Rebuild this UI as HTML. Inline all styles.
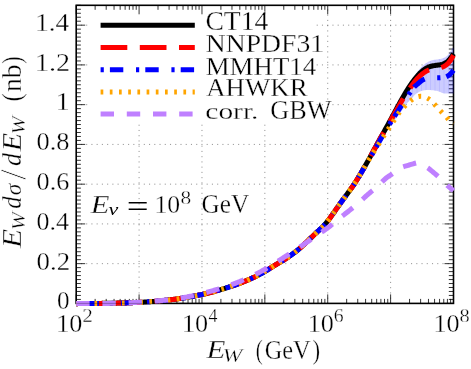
<!DOCTYPE html>
<html><head><meta charset="utf-8"><title>plot</title><style>html,body{margin:0;padding:0;background:#fff;overflow:hidden}body{width:471px;height:369px;position:relative;font-family:"Liberation Serif",serif}</style></head><body>
<svg width="471" height="369" viewBox="0 0 471 369" style="position:absolute;left:0;top:0">
<rect width="471" height="369" fill="#fff"/>
<defs><clipPath id="c"><rect x="76.20" y="5.30" width="378.50" height="300.70"/></clipPath></defs>
<path d="M76.2,263.65 H453.5" stroke="#000" stroke-opacity="0.42" stroke-width="1" stroke-dasharray="1.1 4.14" fill="none" stroke-dashoffset="0.55"/>
<path d="M76.2,223.91 H453.5" stroke="#000" stroke-opacity="0.42" stroke-width="1" stroke-dasharray="1.1 4.14" fill="none" stroke-dashoffset="0.55"/>
<path d="M76.2,184.16 H453.5" stroke="#000" stroke-opacity="0.42" stroke-width="1" stroke-dasharray="1.1 4.14" fill="none" stroke-dashoffset="0.55"/>
<path d="M76.2,144.41 H453.5" stroke="#000" stroke-opacity="0.42" stroke-width="1" stroke-dasharray="1.1 4.14" fill="none" stroke-dashoffset="0.55"/>
<path d="M76.2,104.67 H453.5" stroke="#000" stroke-opacity="0.42" stroke-width="1" stroke-dasharray="1.1 4.14" fill="none" stroke-dashoffset="0.55"/>
<path d="M76.2,64.92 H453.5" stroke="#000" stroke-opacity="0.42" stroke-width="1" stroke-dasharray="1.1 4.14" fill="none" stroke-dashoffset="0.55"/>
<path d="M76.2,25.17 H453.5" stroke="#000" stroke-opacity="0.42" stroke-width="1" stroke-dasharray="1.1 4.14" fill="none" stroke-dashoffset="0.55"/>
<path d="M139.08,303.4 V5.3" stroke="#000" stroke-opacity="0.42" stroke-width="1" stroke-dasharray="1.1 4.14" fill="none" stroke-dashoffset="0.55"/>
<path d="M201.97,303.4 V5.3" stroke="#000" stroke-opacity="0.42" stroke-width="1" stroke-dasharray="1.1 4.14" fill="none" stroke-dashoffset="0.55"/>
<path d="M264.85,303.4 V5.3" stroke="#000" stroke-opacity="0.42" stroke-width="1" stroke-dasharray="1.1 4.14" fill="none" stroke-dashoffset="0.55"/>
<path d="M327.73,303.4 V5.3" stroke="#000" stroke-opacity="0.42" stroke-width="1" stroke-dasharray="1.1 4.14" fill="none" stroke-dashoffset="0.55"/>
<path d="M390.62,303.4 V5.3" stroke="#000" stroke-opacity="0.42" stroke-width="1" stroke-dasharray="1.1 4.14" fill="none" stroke-dashoffset="0.55"/>
<rect x="88.5" y="6.5" width="226.5" height="117" fill="#fff"/>
<path d="M76.2,303.40h9M453.5,303.40h-9M76.2,299.43h4.7M453.5,299.43h-4.7M76.2,295.45h4.7M453.5,295.45h-4.7M76.2,291.48h4.7M453.5,291.48h-4.7M76.2,287.50h4.7M453.5,287.50h-4.7M76.2,283.53h4.7M453.5,283.53h-4.7M76.2,279.55h4.7M453.5,279.55h-4.7M76.2,275.58h4.7M453.5,275.58h-4.7M76.2,271.60h4.7M453.5,271.60h-4.7M76.2,267.63h4.7M453.5,267.63h-4.7M76.2,263.65h9M453.5,263.65h-9M76.2,259.68h4.7M453.5,259.68h-4.7M76.2,255.70h4.7M453.5,255.70h-4.7M76.2,251.73h4.7M453.5,251.73h-4.7M76.2,247.75h4.7M453.5,247.75h-4.7M76.2,243.78h4.7M453.5,243.78h-4.7M76.2,239.81h4.7M453.5,239.81h-4.7M76.2,235.83h4.7M453.5,235.83h-4.7M76.2,231.86h4.7M453.5,231.86h-4.7M76.2,227.88h4.7M453.5,227.88h-4.7M76.2,223.91h9M453.5,223.91h-9M76.2,219.93h4.7M453.5,219.93h-4.7M76.2,215.96h4.7M453.5,215.96h-4.7M76.2,211.98h4.7M453.5,211.98h-4.7M76.2,208.01h4.7M453.5,208.01h-4.7M76.2,204.03h4.7M453.5,204.03h-4.7M76.2,200.06h4.7M453.5,200.06h-4.7M76.2,196.08h4.7M453.5,196.08h-4.7M76.2,192.11h4.7M453.5,192.11h-4.7M76.2,188.13h4.7M453.5,188.13h-4.7M76.2,184.16h9M453.5,184.16h-9M76.2,180.19h4.7M453.5,180.19h-4.7M76.2,176.21h4.7M453.5,176.21h-4.7M76.2,172.24h4.7M453.5,172.24h-4.7M76.2,168.26h4.7M453.5,168.26h-4.7M76.2,164.29h4.7M453.5,164.29h-4.7M76.2,160.31h4.7M453.5,160.31h-4.7M76.2,156.34h4.7M453.5,156.34h-4.7M76.2,152.36h4.7M453.5,152.36h-4.7M76.2,148.39h4.7M453.5,148.39h-4.7M76.2,144.41h9M453.5,144.41h-9M76.2,140.44h4.7M453.5,140.44h-4.7M76.2,136.46h4.7M453.5,136.46h-4.7M76.2,132.49h4.7M453.5,132.49h-4.7M76.2,128.51h4.7M453.5,128.51h-4.7M76.2,124.54h4.7M453.5,124.54h-4.7M76.2,120.57h4.7M453.5,120.57h-4.7M76.2,116.59h4.7M453.5,116.59h-4.7M76.2,112.62h4.7M453.5,112.62h-4.7M76.2,108.64h4.7M453.5,108.64h-4.7M76.2,104.67h9M453.5,104.67h-9M76.2,100.69h4.7M453.5,100.69h-4.7M76.2,96.72h4.7M453.5,96.72h-4.7M76.2,92.74h4.7M453.5,92.74h-4.7M76.2,88.77h4.7M453.5,88.77h-4.7M76.2,84.79h4.7M453.5,84.79h-4.7M76.2,80.82h4.7M453.5,80.82h-4.7M76.2,76.84h4.7M453.5,76.84h-4.7M76.2,72.87h4.7M453.5,72.87h-4.7M76.2,68.89h4.7M453.5,68.89h-4.7M76.2,64.92h9M453.5,64.92h-9M76.2,60.95h4.7M453.5,60.95h-4.7M76.2,56.97h4.7M453.5,56.97h-4.7M76.2,53.00h4.7M453.5,53.00h-4.7M76.2,49.02h4.7M453.5,49.02h-4.7M76.2,45.05h4.7M453.5,45.05h-4.7M76.2,41.07h4.7M453.5,41.07h-4.7M76.2,37.10h4.7M453.5,37.10h-4.7M76.2,33.12h4.7M453.5,33.12h-4.7M76.2,29.15h4.7M453.5,29.15h-4.7M76.2,25.17h9M453.5,25.17h-9M76.2,21.20h4.7M453.5,21.20h-4.7M76.2,17.22h4.7M453.5,17.22h-4.7M76.2,13.25h4.7M453.5,13.25h-4.7M76.2,9.27h4.7M453.5,9.27h-4.7M76.2,5.30h4.7M453.5,5.30h-4.7M76.20,303.4v-9M76.20,5.3v9M95.13,303.4v-4.5M95.13,5.3v4.5M106.20,303.4v-4.5M106.20,5.3v4.5M114.06,303.4v-4.5M114.06,5.3v4.5M120.15,303.4v-4.5M120.15,5.3v4.5M125.13,303.4v-4.5M125.13,5.3v4.5M129.34,303.4v-4.5M129.34,5.3v4.5M132.99,303.4v-4.5M132.99,5.3v4.5M136.21,303.4v-4.5M136.21,5.3v4.5M139.08,303.4v-9M139.08,5.3v9M158.01,303.4v-4.5M158.01,5.3v4.5M169.09,303.4v-4.5M169.09,5.3v4.5M176.94,303.4v-4.5M176.94,5.3v4.5M183.04,303.4v-4.5M183.04,5.3v4.5M188.02,303.4v-4.5M188.02,5.3v4.5M192.23,303.4v-4.5M192.23,5.3v4.5M195.87,303.4v-4.5M195.87,5.3v4.5M199.09,303.4v-4.5M199.09,5.3v4.5M201.97,303.4v-9M201.97,5.3v9M220.90,303.4v-4.5M220.90,5.3v4.5M231.97,303.4v-4.5M231.97,5.3v4.5M239.83,303.4v-4.5M239.83,5.3v4.5M245.92,303.4v-4.5M245.92,5.3v4.5M250.90,303.4v-4.5M250.90,5.3v4.5M255.11,303.4v-4.5M255.11,5.3v4.5M258.76,303.4v-4.5M258.76,5.3v4.5M261.97,303.4v-4.5M261.97,5.3v4.5M264.85,303.4v-9M264.85,5.3v9M283.78,303.4v-4.5M283.78,5.3v4.5M294.85,303.4v-4.5M294.85,5.3v4.5M302.71,303.4v-4.5M302.71,5.3v4.5M308.80,303.4v-4.5M308.80,5.3v4.5M313.78,303.4v-4.5M313.78,5.3v4.5M317.99,303.4v-4.5M317.99,5.3v4.5M321.64,303.4v-4.5M321.64,5.3v4.5M324.86,303.4v-4.5M324.86,5.3v4.5M327.73,303.4v-9M327.73,5.3v9M346.66,303.4v-4.5M346.66,5.3v4.5M357.74,303.4v-4.5M357.74,5.3v4.5M365.59,303.4v-4.5M365.59,5.3v4.5M371.69,303.4v-4.5M371.69,5.3v4.5M376.67,303.4v-4.5M376.67,5.3v4.5M380.88,303.4v-4.5M380.88,5.3v4.5M384.52,303.4v-4.5M384.52,5.3v4.5M387.74,303.4v-4.5M387.74,5.3v4.5M390.62,303.4v-9M390.62,5.3v9M409.55,303.4v-4.5M409.55,5.3v4.5M420.62,303.4v-4.5M420.62,5.3v4.5M428.48,303.4v-4.5M428.48,5.3v4.5M434.57,303.4v-4.5M434.57,5.3v4.5M439.55,303.4v-4.5M439.55,5.3v4.5M443.76,303.4v-4.5M443.76,5.3v4.5M447.41,303.4v-4.5M447.41,5.3v4.5M450.62,303.4v-4.5M450.62,5.3v4.5M453.50,303.4v-9M453.50,5.3v9" stroke="#000" stroke-width="0.8" fill="none"/>
<rect x="76.2" y="5.3" width="377.3" height="298.09999999999997" fill="none" stroke="#000" stroke-width="1.6"/>
<g><path d="M370.2,155.60 L371.2,153.63 L372.2,151.67 L373.2,149.72 L374.2,147.77 L375.2,145.84 L376.2,143.93 L377.2,142.02 L378.2,140.12 L379.2,138.23 L380.2,136.35 L381.2,134.48 L382.2,132.63 L383.2,130.78 L384.2,128.94 L385.2,127.11 L386.2,125.29 L387.2,123.47 L388.2,121.67 L389.2,119.88 L390.2,118.09 L391.2,116.31 L392.2,114.54 L393.2,112.78 L394.2,111.03 L395.2,109.28 L396.2,107.54 L397.2,105.81 L398.2,104.09 L399.2,102.37 L400.2,100.66 L401.2,98.97 L402.2,97.30 L403.2,95.66 L404.2,94.03 L405.2,92.41 L406.2,90.80 L407.2,89.20 L408.2,87.61 L409.2,86.01 L410.2,84.41 L411.2,82.80 L412.2,81.17 L413.2,79.47 L414.2,77.70 L415.2,75.91 L416.2,74.14 L417.2,72.45 L418.2,70.87 L419.2,69.47 L420.2,68.28 L421.2,67.21 L422.2,66.21 L423.2,65.28 L424.2,64.42 L425.2,63.66 L426.2,62.98 L427.2,62.39 L428.2,61.85 L429.2,61.35 L430.2,60.90 L431.2,60.51 L432.2,60.19 L433.2,59.96 L434.2,59.79 L435.2,59.67 L436.2,59.55 L437.2,59.42 L438.2,59.26 L439.2,59.09 L440.2,58.89 L441.2,58.67 L442.2,58.41 L443.2,58.10 L444.2,57.71 L445.2,57.18 L446.2,56.52 L447.2,55.72 L448.2,54.79 L449.2,53.41 L450.2,51.74 L451.2,50.22 L452.2,48.91 L453.2,47.63 L453.5,47.24 L453.5,93.40 L453.2,93.41 L452.2,93.44 L451.2,93.47 L450.2,93.51 L449.2,93.53 L448.2,93.56 L447.2,93.58 L446.2,93.59 L445.2,93.60 L444.2,93.53 L443.2,93.29 L442.2,92.92 L441.2,92.48 L440.2,92.04 L439.2,91.64 L438.2,91.35 L437.2,91.10 L436.2,90.85 L435.2,90.63 L434.2,90.45 L433.2,90.32 L432.2,90.23 L431.2,90.15 L430.2,90.09 L429.2,90.04 L428.2,90.01 L427.2,90.00 L426.2,90.06 L425.2,90.19 L424.2,90.36 L423.2,90.56 L422.2,90.78 L421.2,91.05 L420.2,91.41 L419.2,91.87 L418.2,92.39 L417.2,92.99 L416.2,93.66 L415.2,94.57 L414.2,95.60 L413.2,96.65 L412.2,97.78 L411.2,98.91 L410.2,99.98 L409.2,101.02 L408.2,102.07 L407.2,103.15 L406.2,104.31 L405.2,105.58 L404.2,107.00 L403.2,108.49 L402.2,109.99 L401.2,111.42 L400.2,112.83 L399.2,114.24 L398.2,115.63 L397.2,117.01 L396.2,118.38 L395.2,119.73 L394.2,121.05 L393.2,122.33 L392.2,123.60 L391.2,124.88 L390.2,126.22 L389.2,127.63 L388.2,129.10 L387.2,130.61 L386.2,132.14 L385.2,133.69 L384.2,135.25 L383.2,136.84 L382.2,138.45 L381.2,140.07 L380.2,141.68 L379.2,143.28 L378.2,144.88 L377.2,146.48 L376.2,148.08 L375.2,149.68 L374.2,151.28 L373.2,152.88 L372.2,154.48 L371.2,156.08 L370.2,157.68Z" fill="#0000ff" fill-opacity="0.2"/>
<path d="M385.5,127.1 V133.7" stroke="#0000ff" stroke-opacity="0.07" stroke-width="1"/>
<path d="M390.0,118.1 V126.2" stroke="#0000ff" stroke-opacity="0.07" stroke-width="1"/>
<path d="M394.5,111.0 V121.1" stroke="#0000ff" stroke-opacity="0.07" stroke-width="1"/>
<path d="M399.0,102.4 V114.2" stroke="#0000ff" stroke-opacity="0.07" stroke-width="1"/>
<path d="M403.5,95.7 V108.5" stroke="#0000ff" stroke-opacity="0.07" stroke-width="1"/>
<path d="M408.0,87.6 V102.1" stroke="#0000ff" stroke-opacity="0.07" stroke-width="1"/>
<path d="M412.5,81.2 V97.8" stroke="#0000ff" stroke-opacity="0.07" stroke-width="1"/>
<path d="M417.0,72.4 V93.0" stroke="#0000ff" stroke-opacity="0.07" stroke-width="1"/>
<path d="M421.5,67.2 V91.0" stroke="#0000ff" stroke-opacity="0.07" stroke-width="1"/>
<path d="M426.0,63.0 V90.1" stroke="#0000ff" stroke-opacity="0.07" stroke-width="1"/>
<path d="M430.5,60.9 V90.1" stroke="#0000ff" stroke-opacity="0.07" stroke-width="1"/>
<path d="M435.0,59.7 V90.6" stroke="#0000ff" stroke-opacity="0.07" stroke-width="1"/>
<path d="M439.5,59.1 V91.6" stroke="#0000ff" stroke-opacity="0.07" stroke-width="1"/>
<path d="M444.0,57.7 V93.5" stroke="#0000ff" stroke-opacity="0.07" stroke-width="1"/>
<path d="M448.5,54.8 V93.6" stroke="#0000ff" stroke-opacity="0.07" stroke-width="1"/>
<path d="M453.0,47.6 V93.4" stroke="#0000ff" stroke-opacity="0.07" stroke-width="1"/>
<path d="M76.2,303.65 L77.2,303.64 L78.2,303.62 L79.2,303.61 L80.2,303.60 L81.2,303.59 L82.2,303.58 L83.2,303.57 L84.2,303.55 L85.2,303.54 L86.2,303.53 L87.2,303.52 L88.2,303.51 L89.2,303.50 L90.2,303.49 L91.2,303.48 L92.2,303.47 L93.2,303.46 L94.2,303.45 L95.2,303.44 L96.2,303.43 L97.2,303.42 L98.2,303.41 L99.2,303.40 L100.2,303.39 L101.2,303.38 L102.2,303.36 L103.2,303.35 L104.2,303.34 L105.2,303.33 L106.2,303.31 L107.2,303.30 L108.2,303.28 L109.2,303.27 L110.2,303.25 L111.2,303.23 L112.2,303.22 L113.2,303.20 L114.2,303.18 L115.2,303.16 L116.2,303.14 L117.2,303.12 L118.2,303.09 L119.2,303.07 L120.2,303.05 L121.2,303.02 L122.2,302.99 L123.2,302.97 L124.2,302.94 L125.2,302.91 L126.2,302.88 L127.2,302.84 L128.2,302.81 L129.2,302.77 L130.2,302.74 L131.2,302.70 L132.2,302.66 L133.2,302.62 L134.2,302.58 L135.2,302.54 L136.2,302.49 L137.2,302.44 L138.2,302.40 L139.2,302.35 L140.2,302.29 L141.2,302.24 L142.2,302.19 L143.2,302.13 L144.2,302.07 L145.2,302.01 L146.2,301.95 L147.2,301.88 L148.2,301.82 L149.2,301.75 L150.2,301.68 L151.2,301.61 L152.2,301.53 L153.2,301.46 L154.2,301.38 L155.2,301.30 L156.2,301.21 L157.2,301.13 L158.2,301.04 L159.2,300.95 L160.2,300.86 L161.2,300.76 L162.2,300.67 L163.2,300.57 L164.2,300.47 L165.2,300.36 L166.2,300.25 L167.2,300.14 L168.2,300.03 L169.2,299.92 L170.2,299.80 L171.2,299.68 L172.2,299.55 L173.2,299.43 L174.2,299.30 L175.2,299.17 L176.2,299.03 L177.2,298.89 L178.2,298.75 L179.2,298.61 L180.2,298.46 L181.2,298.31 L182.2,298.16 L183.2,298.00 L184.2,297.84 L185.2,297.68 L186.2,297.51 L187.2,297.34 L188.2,297.17 L189.2,296.99 L190.2,296.81 L191.2,296.63 L192.2,296.45 L193.2,296.26 L194.2,296.06 L195.2,295.87 L196.2,295.67 L197.2,295.46 L198.2,295.26 L199.2,295.05 L200.2,294.83 L201.2,294.62 L202.2,294.40 L203.2,294.17 L204.2,293.94 L205.2,293.71 L206.2,293.48 L207.2,293.24 L208.2,292.99 L209.2,292.75 L210.2,292.50 L211.2,292.24 L212.2,291.98 L213.2,291.72 L214.2,291.46 L215.2,291.19 L216.2,290.91 L217.2,290.63 L218.2,290.35 L219.2,290.07 L220.2,289.78 L221.2,289.48 L222.2,289.19 L223.2,288.88 L224.2,288.58 L225.2,288.27 L226.2,287.95 L227.2,287.63 L228.2,287.31 L229.2,286.99 L230.2,286.65 L231.2,286.32 L232.2,285.98 L233.2,285.63 L234.2,285.29 L235.2,284.93 L236.2,284.58 L237.2,284.21 L238.2,283.85 L239.2,283.48 L240.2,283.10 L241.2,282.72 L242.2,282.33 L243.2,281.94 L244.2,281.54 L245.2,281.14 L246.2,280.72 L247.2,280.31 L248.2,279.88 L249.2,279.45 L250.2,279.01 L251.2,278.56 L252.2,278.10 L253.2,277.63 L254.2,277.16 L255.2,276.68 L256.2,276.18 L257.2,275.68 L258.2,275.17 L259.2,274.65 L260.2,274.12 L261.2,273.57 L262.2,273.02 L263.2,272.46 L264.2,271.88 L265.2,271.29 L266.2,270.69 L267.2,270.08 L268.2,269.47 L269.2,268.85 L270.2,268.22 L271.2,267.60 L272.2,266.97 L273.2,266.35 L274.2,265.72 L275.2,265.11 L276.2,264.50 L277.2,263.90 L278.2,263.31 L279.2,262.72 L280.2,262.14 L281.2,261.55 L282.2,260.96 L283.2,260.36 L284.2,259.75 L285.2,259.13 L286.2,258.49 L287.2,257.84 L288.2,257.17 L289.2,256.49 L290.2,255.79 L291.2,255.08 L292.2,254.35 L293.2,253.60 L294.2,252.84 L295.2,252.06 L296.2,251.27 L297.2,250.46 L298.2,249.64 L299.2,248.79 L300.2,247.93 L301.2,247.06 L302.2,246.17 L303.2,245.26 L304.2,244.33 L305.2,243.40 L306.2,242.45 L307.2,241.50 L308.2,240.54 L309.2,239.57 L310.2,238.61 L311.2,237.64 L312.2,236.67 L313.2,235.70 L314.2,234.74 L315.2,233.79 L316.2,232.85 L317.2,231.91 L318.2,230.99 L319.2,230.07 L320.2,229.14 L321.2,228.19 L322.2,227.21 L323.2,226.21 L324.2,225.15 L325.2,224.05 L326.2,222.88 L327.2,221.66 L328.2,220.38 L329.2,219.06 L330.2,217.71 L331.2,216.32 L332.2,214.91 L333.2,213.49 L334.2,212.05 L335.2,210.61 L336.2,209.17 L337.2,207.74 L338.2,206.31 L339.2,204.89 L340.2,203.48 L341.2,202.09 L342.2,200.71 L343.2,199.35 L344.2,198.00 L345.2,196.65 L346.2,195.30 L347.2,193.95 L348.2,192.59 L349.2,191.22 L350.2,189.84 L351.2,188.43 L352.2,187.01 L353.2,185.55 L354.2,184.06 L355.2,182.54 L356.2,180.99 L357.2,179.40 L358.2,177.79 L359.2,176.15 L360.2,174.49 L361.2,172.80 L362.2,171.09 L363.2,169.36 L364.2,167.61 L365.2,165.85 L366.2,164.07 L367.2,162.28 L368.2,160.47 L369.2,158.66 L370.2,156.84 L371.2,155.01 L372.2,153.18 L373.2,151.35 L374.2,149.51 L375.2,147.68 L376.2,145.85 L377.2,144.02 L378.2,142.20 L379.2,140.38 L380.2,138.57 L381.2,136.76 L382.2,134.95 L383.2,133.14 L384.2,131.34 L385.2,129.53 L386.2,127.72 L387.2,125.91 L388.2,124.09 L389.2,122.27 L390.2,120.45 L391.2,118.62 L392.2,116.78 L393.2,114.93 L394.2,113.08 L395.2,111.23 L396.2,109.38 L397.2,107.53 L398.2,105.69 L399.2,103.86 L400.2,102.05 L401.2,100.25 L402.2,98.48 L403.2,96.73 L404.2,95.00 L405.2,93.31 L406.2,91.65 L407.2,90.03 L408.2,88.44 L409.2,86.89 L410.2,85.37 L411.2,83.91 L412.2,82.48 L413.2,81.10 L414.2,79.77 L415.2,78.49 L416.2,77.26 L417.2,76.08 L418.2,74.96 L419.2,73.89 L420.2,72.89 L421.2,71.94 L422.2,71.06 L423.2,70.24 L424.2,69.49 L425.2,68.81 L426.2,68.20 L427.2,67.66 L428.2,67.19 L429.2,66.80 L430.2,66.47 L431.2,66.20 L432.2,65.97 L433.2,65.78 L434.2,65.62 L435.2,65.48 L436.2,65.35 L437.2,65.22 L438.2,65.09 L439.2,64.95 L440.2,64.78 L441.2,64.56 L442.2,64.30 L443.2,63.97 L444.2,63.56 L445.2,63.05 L446.2,62.44 L447.2,61.71 L448.2,60.85 L449.2,59.84 L450.2,58.67 L451.2,57.34 L452.2,55.83 L453.2,54.23 L453.5,53.75" fill="none" stroke="#000" stroke-width="5" stroke-linejoin="round"/>
<path d="M76.2,303.65 L77.2,303.64 L78.2,303.62 L79.2,303.61 L80.2,303.60 L81.2,303.59 L82.2,303.58 L83.2,303.57 L84.2,303.55 L85.2,303.54 L86.2,303.53 L87.2,303.52 L88.2,303.51 L89.2,303.50 L90.2,303.49 L91.2,303.48 L92.2,303.47 L93.2,303.46 L94.2,303.45 L95.2,303.44 L96.2,303.43 L97.2,303.42 L98.2,303.41 L99.2,303.40 L100.2,303.39 L101.2,303.38 L102.2,303.36 L103.2,303.35 L104.2,303.34 L105.2,303.33 L106.2,303.31 L107.2,303.30 L108.2,303.28 L109.2,303.27 L110.2,303.25 L111.2,303.23 L112.2,303.22 L113.2,303.20 L114.2,303.18 L115.2,303.16 L116.2,303.14 L117.2,303.12 L118.2,303.09 L119.2,303.07 L120.2,303.05 L121.2,303.02 L122.2,302.99 L123.2,302.97 L124.2,302.94 L125.2,302.91 L126.2,302.88 L127.2,302.84 L128.2,302.81 L129.2,302.77 L130.2,302.74 L131.2,302.70 L132.2,302.66 L133.2,302.62 L134.2,302.58 L135.2,302.54 L136.2,302.49 L137.2,302.44 L138.2,302.40 L139.2,302.35 L140.2,302.29 L141.2,302.24 L142.2,302.19 L143.2,302.13 L144.2,302.07 L145.2,302.01 L146.2,301.95 L147.2,301.88 L148.2,301.82 L149.2,301.75 L150.2,301.68 L151.2,301.61 L152.2,301.53 L153.2,301.46 L154.2,301.38 L155.2,301.30 L156.2,301.21 L157.2,301.13 L158.2,301.04 L159.2,300.95 L160.2,300.86 L161.2,300.76 L162.2,300.67 L163.2,300.57 L164.2,300.47 L165.2,300.36 L166.2,300.25 L167.2,300.14 L168.2,300.03 L169.2,299.92 L170.2,299.80 L171.2,299.68 L172.2,299.55 L173.2,299.43 L174.2,299.30 L175.2,299.17 L176.2,299.03 L177.2,298.89 L178.2,298.75 L179.2,298.61 L180.2,298.46 L181.2,298.31 L182.2,298.16 L183.2,298.00 L184.2,297.84 L185.2,297.68 L186.2,297.51 L187.2,297.34 L188.2,297.17 L189.2,296.99 L190.2,296.81 L191.2,296.63 L192.2,296.45 L193.2,296.26 L194.2,296.06 L195.2,295.87 L196.2,295.67 L197.2,295.46 L198.2,295.26 L199.2,295.05 L200.2,294.83 L201.2,294.62 L202.2,294.40 L203.2,294.17 L204.2,293.94 L205.2,293.71 L206.2,293.48 L207.2,293.24 L208.2,292.99 L209.2,292.75 L210.2,292.50 L211.2,292.24 L212.2,291.98 L213.2,291.72 L214.2,291.46 L215.2,291.19 L216.2,290.91 L217.2,290.63 L218.2,290.35 L219.2,290.07 L220.2,289.78 L221.2,289.48 L222.2,289.19 L223.2,288.88 L224.2,288.58 L225.2,288.27 L226.2,287.95 L227.2,287.63 L228.2,287.31 L229.2,286.99 L230.2,286.65 L231.2,286.32 L232.2,285.98 L233.2,285.63 L234.2,285.29 L235.2,284.93 L236.2,284.58 L237.2,284.21 L238.2,283.85 L239.2,283.48 L240.2,283.10 L241.2,282.72 L242.2,282.33 L243.2,281.94 L244.2,281.54 L245.2,281.14 L246.2,280.72 L247.2,280.31 L248.2,279.88 L249.2,279.45 L250.2,279.01 L251.2,278.56 L252.2,278.10 L253.2,277.63 L254.2,277.16 L255.2,276.68 L256.2,276.18 L257.2,275.68 L258.2,275.17 L259.2,274.65 L260.2,274.12 L261.2,273.57 L262.2,273.02 L263.2,272.46 L264.2,271.88 L265.2,271.29 L266.2,270.69 L267.2,270.08 L268.2,269.47 L269.2,268.85 L270.2,268.22 L271.2,267.60 L272.2,266.97 L273.2,266.35 L274.2,265.72 L275.2,265.11 L276.2,264.50 L277.2,263.90 L278.2,263.31 L279.2,262.72 L280.2,262.14 L281.2,261.55 L282.2,260.96 L283.2,260.36 L284.2,259.75 L285.2,259.13 L286.2,258.49 L287.2,257.84 L288.2,257.17 L289.2,256.49 L290.2,255.79 L291.2,255.08 L292.2,254.35 L293.2,253.60 L294.2,252.84 L295.2,252.06 L296.2,251.27 L297.2,250.46 L298.2,249.64 L299.2,248.79 L300.2,247.93 L301.2,247.06 L302.2,246.17 L303.2,245.26 L304.2,244.33 L305.2,243.40 L306.2,242.45 L307.2,241.50 L308.2,240.54 L309.2,239.57 L310.2,238.61 L311.2,237.64 L312.2,236.67 L313.2,235.70 L314.2,234.74 L315.2,233.79 L316.2,232.85 L317.2,231.91 L318.2,230.99 L319.2,230.07 L320.2,229.14 L321.2,228.19 L322.2,227.21 L323.2,226.21 L324.2,225.15 L325.2,224.05 L326.2,222.88 L327.2,221.66 L328.2,220.38 L329.2,219.06 L330.2,217.71 L331.2,216.32 L332.2,214.91 L333.2,213.49 L334.2,212.05 L335.2,210.61 L336.2,209.17 L337.2,207.74 L338.2,206.31 L339.2,204.89 L340.2,203.48 L341.2,202.09 L342.2,200.71 L343.2,199.35 L344.2,198.00 L345.2,196.65 L346.2,195.30 L347.2,193.95 L348.2,192.59 L349.2,191.22 L350.2,189.84 L351.2,188.43 L352.2,187.01 L353.2,185.55 L354.2,184.06 L355.2,182.54 L356.2,180.99 L357.2,179.40 L358.2,177.79 L359.2,176.15 L360.2,174.49 L361.2,172.80 L362.2,171.09 L363.2,169.36 L364.2,167.61 L365.2,165.85 L366.2,164.07 L367.2,162.28 L368.2,160.47 L369.2,158.66 L370.2,156.84 L371.2,155.01 L372.2,153.18 L373.2,151.35 L374.2,149.51 L375.2,147.68 L376.2,145.85 L377.2,144.02 L378.2,142.20 L379.2,140.38 L380.2,138.59 L381.2,136.86 L382.2,135.13 L383.2,133.41 L384.2,131.69 L385.2,129.96 L386.2,128.24 L387.2,126.51 L388.2,124.78 L389.2,123.04 L390.2,121.30 L391.2,119.55 L392.2,117.79 L393.2,116.02 L394.2,114.25 L395.2,112.47 L396.2,110.69 L397.2,108.92 L398.2,107.16 L399.2,105.40 L400.2,103.67 L401.2,101.95 L402.2,100.26 L403.2,98.58 L404.2,96.94 L405.2,95.33 L406.2,93.75 L407.2,92.20 L408.2,90.69 L409.2,89.22 L410.2,87.78 L411.2,86.35 L412.2,84.97 L413.2,83.63 L414.2,82.34 L415.2,81.10 L416.2,79.90 L417.2,78.77 L418.2,77.68 L419.2,76.66 L420.2,75.69 L421.2,74.79 L422.2,73.95 L423.2,73.17 L424.2,72.46 L425.2,71.81 L426.2,71.20 L427.2,70.66 L428.2,70.19 L429.2,69.80 L430.2,69.47 L431.2,69.20 L432.2,68.97 L433.2,68.78 L434.2,68.62 L435.2,68.48 L436.2,68.35 L437.2,68.22 L438.2,68.09 L439.2,67.95 L440.2,67.76 L441.2,67.48 L442.2,67.14 L443.2,66.74 L444.2,66.26 L445.2,65.68 L446.2,65.00 L447.2,64.18 L448.2,63.16 L449.2,62.00 L450.2,60.68 L451.2,59.19 L452.2,57.53 L453.2,55.78 L453.5,55.25" fill="none" stroke="#ff0000" stroke-width="5" stroke-dasharray="26.7 12.5"/>
<path d="M76.2,303.65 L77.2,303.64 L78.2,303.62 L79.2,303.61 L80.2,303.60 L81.2,303.59 L82.2,303.58 L83.2,303.57 L84.2,303.55 L85.2,303.54 L86.2,303.53 L87.2,303.52 L88.2,303.51 L89.2,303.50 L90.2,303.49 L91.2,303.48 L92.2,303.47 L93.2,303.46 L94.2,303.45 L95.2,303.44 L96.2,303.43 L97.2,303.42 L98.2,303.41 L99.2,303.40 L100.2,303.39 L101.2,303.38 L102.2,303.36 L103.2,303.35 L104.2,303.34 L105.2,303.33 L106.2,303.31 L107.2,303.30 L108.2,303.28 L109.2,303.27 L110.2,303.25 L111.2,303.23 L112.2,303.22 L113.2,303.20 L114.2,303.18 L115.2,303.16 L116.2,303.14 L117.2,303.12 L118.2,303.09 L119.2,303.07 L120.2,303.05 L121.2,303.02 L122.2,302.99 L123.2,302.97 L124.2,302.94 L125.2,302.91 L126.2,302.88 L127.2,302.84 L128.2,302.81 L129.2,302.77 L130.2,302.74 L131.2,302.70 L132.2,302.66 L133.2,302.62 L134.2,302.58 L135.2,302.54 L136.2,302.49 L137.2,302.44 L138.2,302.40 L139.2,302.35 L140.2,302.29 L141.2,302.24 L142.2,302.19 L143.2,302.13 L144.2,302.07 L145.2,302.01 L146.2,301.95 L147.2,301.88 L148.2,301.82 L149.2,301.75 L150.2,301.68 L151.2,301.61 L152.2,301.53 L153.2,301.46 L154.2,301.38 L155.2,301.30 L156.2,301.21 L157.2,301.13 L158.2,301.04 L159.2,300.95 L160.2,300.86 L161.2,300.76 L162.2,300.67 L163.2,300.57 L164.2,300.47 L165.2,300.36 L166.2,300.25 L167.2,300.14 L168.2,300.03 L169.2,299.92 L170.2,299.80 L171.2,299.68 L172.2,299.55 L173.2,299.43 L174.2,299.30 L175.2,299.17 L176.2,299.03 L177.2,298.89 L178.2,298.75 L179.2,298.61 L180.2,298.46 L181.2,298.31 L182.2,298.16 L183.2,298.00 L184.2,297.84 L185.2,297.68 L186.2,297.51 L187.2,297.34 L188.2,297.17 L189.2,296.99 L190.2,296.81 L191.2,296.63 L192.2,296.45 L193.2,296.26 L194.2,296.06 L195.2,295.87 L196.2,295.67 L197.2,295.46 L198.2,295.26 L199.2,295.05 L200.2,294.83 L201.2,294.62 L202.2,294.40 L203.2,294.17 L204.2,293.94 L205.2,293.71 L206.2,293.48 L207.2,293.24 L208.2,292.99 L209.2,292.75 L210.2,292.50 L211.2,292.24 L212.2,291.98 L213.2,291.72 L214.2,291.46 L215.2,291.19 L216.2,290.91 L217.2,290.63 L218.2,290.35 L219.2,290.07 L220.2,289.78 L221.2,289.48 L222.2,289.19 L223.2,288.88 L224.2,288.58 L225.2,288.27 L226.2,287.95 L227.2,287.63 L228.2,287.31 L229.2,286.99 L230.2,286.65 L231.2,286.32 L232.2,285.98 L233.2,285.63 L234.2,285.29 L235.2,284.93 L236.2,284.58 L237.2,284.21 L238.2,283.85 L239.2,283.48 L240.2,283.10 L241.2,282.72 L242.2,282.33 L243.2,281.94 L244.2,281.54 L245.2,281.14 L246.2,280.72 L247.2,280.31 L248.2,279.88 L249.2,279.45 L250.2,279.01 L251.2,278.56 L252.2,278.10 L253.2,277.63 L254.2,277.16 L255.2,276.68 L256.2,276.18 L257.2,275.68 L258.2,275.17 L259.2,274.65 L260.2,274.12 L261.2,273.57 L262.2,273.02 L263.2,272.46 L264.2,271.88 L265.2,271.29 L266.2,270.69 L267.2,270.08 L268.2,269.47 L269.2,268.85 L270.2,268.22 L271.2,267.60 L272.2,266.97 L273.2,266.35 L274.2,265.72 L275.2,265.11 L276.2,264.50 L277.2,263.90 L278.2,263.31 L279.2,262.72 L280.2,262.14 L281.2,261.55 L282.2,260.96 L283.2,260.36 L284.2,259.75 L285.2,259.13 L286.2,258.49 L287.2,257.84 L288.2,257.17 L289.2,256.49 L290.2,255.79 L291.2,255.08 L292.2,254.35 L293.2,253.60 L294.2,252.84 L295.2,252.06 L296.2,251.27 L297.2,250.46 L298.2,249.64 L299.2,248.79 L300.2,247.93 L301.2,247.06 L302.2,246.17 L303.2,245.26 L304.2,244.33 L305.2,243.40 L306.2,242.45 L307.2,241.50 L308.2,240.54 L309.2,239.57 L310.2,238.61 L311.2,237.64 L312.2,236.67 L313.2,235.70 L314.2,234.74 L315.2,233.79 L316.2,232.85 L317.2,231.91 L318.2,230.99 L319.2,230.07 L320.2,229.14 L321.2,228.19 L322.2,227.21 L323.2,226.21 L324.2,225.15 L325.2,224.05 L326.2,222.88 L327.2,221.66 L328.2,220.38 L329.2,219.06 L330.2,217.71 L331.2,216.32 L332.2,214.91 L333.2,213.49 L334.2,212.05 L335.2,210.61 L336.2,209.17 L337.2,207.74 L338.2,206.31 L339.2,204.89 L340.2,203.48 L341.2,202.09 L342.2,200.71 L343.2,199.35 L344.2,198.00 L345.2,196.65 L346.2,195.30 L347.2,193.95 L348.2,192.59 L349.2,191.22 L350.2,189.84 L351.2,188.43 L352.2,187.01 L353.2,185.55 L354.2,184.06 L355.2,182.54 L356.2,180.99 L357.2,179.40 L358.2,177.79 L359.2,176.15 L360.2,174.49 L361.2,172.80 L362.2,171.09 L363.2,169.39 L364.2,167.71 L365.2,166.04 L366.2,164.37 L367.2,162.71 L368.2,161.04 L369.2,159.36 L370.2,157.66 L371.2,155.94 L372.2,154.20 L373.2,152.43 L374.2,150.66 L375.2,148.89 L376.2,147.11 L377.2,145.34 L378.2,143.58 L379.2,141.83 L380.2,140.08 L381.2,138.34 L382.2,136.61 L383.2,134.88 L384.2,133.15 L385.2,131.44 L386.2,129.74 L387.2,128.08 L388.2,126.44 L389.2,124.81 L390.2,123.19 L391.2,121.59 L392.2,120.00 L393.2,118.42 L394.2,116.84 L395.2,115.25 L396.2,113.68 L397.2,112.11 L398.2,110.55 L399.2,109.02 L400.2,107.51 L401.2,105.99 L402.2,104.41 L403.2,102.81 L404.2,101.21 L405.2,99.62 L406.2,98.07 L407.2,96.55 L408.2,95.06 L409.2,93.61 L410.2,92.19 L411.2,90.81 L412.2,89.47 L413.2,88.19 L414.2,87.00 L415.2,86.00 L416.2,85.15 L417.2,84.35 L418.2,83.50 L419.2,82.62 L420.2,81.78 L421.2,80.99 L422.2,80.30 L423.2,79.71 L424.2,79.21 L425.2,78.80 L426.2,78.45 L427.2,78.19 L428.2,78.01 L429.2,77.89 L430.2,77.82 L431.2,77.80 L432.2,77.81 L433.2,77.83 L434.2,77.85 L435.2,77.84 L436.2,77.83 L437.2,77.82 L438.2,77.82 L439.2,77.81 L440.2,77.78 L441.2,77.72 L442.2,77.64 L443.2,77.53 L444.2,77.37 L445.2,77.14 L446.2,76.79 L447.2,76.33 L448.2,75.74 L449.2,75.01 L450.2,74.13 L451.2,73.10 L452.2,71.91 L453.2,70.63 L453.5,70.25" fill="none" stroke="#0000ff" stroke-width="5" stroke-dasharray="3.2 6.1 13.4 12.7"/>
<path d="M76.2,303.65 L77.2,303.64 L78.2,303.62 L79.2,303.61 L80.2,303.60 L81.2,303.59 L82.2,303.58 L83.2,303.57 L84.2,303.55 L85.2,303.54 L86.2,303.53 L87.2,303.52 L88.2,303.51 L89.2,303.50 L90.2,303.49 L91.2,303.48 L92.2,303.47 L93.2,303.46 L94.2,303.45 L95.2,303.44 L96.2,303.43 L97.2,303.42 L98.2,303.41 L99.2,303.40 L100.2,303.39 L101.2,303.38 L102.2,303.36 L103.2,303.35 L104.2,303.34 L105.2,303.33 L106.2,303.31 L107.2,303.30 L108.2,303.28 L109.2,303.27 L110.2,303.25 L111.2,303.23 L112.2,303.22 L113.2,303.20 L114.2,303.18 L115.2,303.16 L116.2,303.14 L117.2,303.12 L118.2,303.09 L119.2,303.07 L120.2,303.05 L121.2,303.02 L122.2,302.99 L123.2,302.97 L124.2,302.94 L125.2,302.91 L126.2,302.88 L127.2,302.84 L128.2,302.81 L129.2,302.77 L130.2,302.74 L131.2,302.70 L132.2,302.66 L133.2,302.62 L134.2,302.58 L135.2,302.54 L136.2,302.49 L137.2,302.44 L138.2,302.40 L139.2,302.35 L140.2,302.29 L141.2,302.24 L142.2,302.19 L143.2,302.13 L144.2,302.07 L145.2,302.01 L146.2,301.95 L147.2,301.88 L148.2,301.82 L149.2,301.75 L150.2,301.68 L151.2,301.61 L152.2,301.53 L153.2,301.46 L154.2,301.38 L155.2,301.30 L156.2,301.21 L157.2,301.13 L158.2,301.04 L159.2,300.95 L160.2,300.86 L161.2,300.76 L162.2,300.67 L163.2,300.57 L164.2,300.47 L165.2,300.36 L166.2,300.25 L167.2,300.14 L168.2,300.03 L169.2,299.92 L170.2,299.80 L171.2,299.68 L172.2,299.55 L173.2,299.43 L174.2,299.30 L175.2,299.17 L176.2,299.03 L177.2,298.89 L178.2,298.75 L179.2,298.61 L180.2,298.46 L181.2,298.31 L182.2,298.16 L183.2,298.00 L184.2,297.84 L185.2,297.68 L186.2,297.51 L187.2,297.34 L188.2,297.17 L189.2,296.99 L190.2,296.81 L191.2,296.63 L192.2,296.45 L193.2,296.26 L194.2,296.06 L195.2,295.87 L196.2,295.67 L197.2,295.46 L198.2,295.26 L199.2,295.05 L200.2,294.83 L201.2,294.62 L202.2,294.40 L203.2,294.17 L204.2,293.94 L205.2,293.71 L206.2,293.48 L207.2,293.24 L208.2,292.99 L209.2,292.75 L210.2,292.50 L211.2,292.24 L212.2,291.98 L213.2,291.72 L214.2,291.46 L215.2,291.19 L216.2,290.91 L217.2,290.63 L218.2,290.35 L219.2,290.07 L220.2,289.78 L221.2,289.48 L222.2,289.19 L223.2,288.88 L224.2,288.58 L225.2,288.27 L226.2,287.95 L227.2,287.63 L228.2,287.31 L229.2,286.99 L230.2,286.65 L231.2,286.32 L232.2,285.98 L233.2,285.63 L234.2,285.29 L235.2,284.93 L236.2,284.58 L237.2,284.21 L238.2,283.85 L239.2,283.48 L240.2,283.10 L241.2,282.72 L242.2,282.33 L243.2,281.94 L244.2,281.54 L245.2,281.14 L246.2,280.72 L247.2,280.31 L248.2,279.88 L249.2,279.45 L250.2,279.01 L251.2,278.56 L252.2,278.10 L253.2,277.63 L254.2,277.16 L255.2,276.68 L256.2,276.18 L257.2,275.68 L258.2,275.17 L259.2,274.65 L260.2,274.12 L261.2,273.57 L262.2,273.02 L263.2,272.46 L264.2,271.88 L265.2,271.29 L266.2,270.69 L267.2,270.08 L268.2,269.47 L269.2,268.85 L270.2,268.22 L271.2,267.60 L272.2,266.97 L273.2,266.35 L274.2,265.72 L275.2,265.11 L276.2,264.50 L277.2,263.90 L278.2,263.31 L279.2,262.72 L280.2,262.14 L281.2,261.55 L282.2,260.96 L283.2,260.36 L284.2,259.75 L285.2,259.13 L286.2,258.49 L287.2,257.84 L288.2,257.17 L289.2,256.49 L290.2,255.79 L291.2,255.08 L292.2,254.35 L293.2,253.60 L294.2,252.84 L295.2,252.06 L296.2,251.27 L297.2,250.46 L298.2,249.64 L299.2,248.79 L300.2,247.93 L301.2,247.06 L302.2,246.17 L303.2,245.26 L304.2,244.33 L305.2,243.40 L306.2,242.45 L307.2,241.50 L308.2,240.54 L309.2,239.57 L310.2,238.61 L311.2,237.64 L312.2,236.67 L313.2,235.70 L314.2,234.74 L315.2,233.79 L316.2,232.85 L317.2,231.91 L318.2,230.99 L319.2,230.07 L320.2,229.14 L321.2,228.19 L322.2,227.21 L323.2,226.21 L324.2,225.15 L325.2,224.05 L326.2,222.88 L327.2,221.66 L328.2,220.38 L329.2,219.06 L330.2,217.71 L331.2,216.32 L332.2,214.91 L333.2,213.49 L334.2,212.05 L335.2,210.61 L336.2,209.17 L337.2,207.74 L338.2,206.31 L339.2,204.89 L340.2,203.48 L341.2,202.09 L342.2,200.71 L343.2,199.35 L344.2,198.00 L345.2,196.65 L346.2,195.30 L347.2,193.95 L348.2,192.59 L349.2,191.22 L350.2,189.84 L351.2,188.43 L352.2,187.01 L353.2,185.55 L354.2,184.06 L355.2,182.54 L356.2,180.99 L357.2,179.40 L358.2,177.79 L359.2,176.15 L360.2,174.49 L361.2,172.80 L362.2,171.09 L363.2,169.36 L364.2,167.61 L365.2,165.88 L366.2,164.18 L367.2,162.49 L368.2,160.81 L369.2,159.14 L370.2,157.47 L371.2,155.85 L372.2,154.28 L373.2,152.73 L374.2,151.16 L375.2,149.61 L376.2,148.07 L377.2,146.52 L378.2,144.94 L379.2,143.34 L380.2,141.72 L381.2,140.10 L382.2,138.49 L383.2,136.89 L384.2,135.30 L385.2,133.72 L386.2,132.18 L387.2,130.69 L388.2,129.24 L389.2,127.80 L390.2,126.31 L391.2,124.79 L392.2,123.25 L393.2,121.70 L394.2,120.14 L395.2,118.57 L396.2,116.99 L397.2,115.45 L398.2,113.97 L399.2,112.59 L400.2,111.31 L401.2,110.08 L402.2,108.90 L403.2,107.80 L404.2,106.77 L405.2,105.77 L406.2,104.78 L407.2,103.78 L408.2,102.80 L409.2,101.86 L410.2,101.01 L411.2,100.24 L412.2,99.54 L413.2,98.90 L414.2,98.32 L415.2,97.78 L416.2,97.31 L417.2,96.92 L418.2,96.63 L419.2,96.44 L420.2,96.36 L421.2,96.37 L422.2,96.45 L423.2,96.61 L424.2,96.87 L425.2,97.20 L426.2,97.60 L427.2,98.06 L428.2,98.60 L429.2,99.24 L430.2,99.99 L431.2,100.87 L432.2,101.85 L433.2,102.89 L434.2,103.96 L435.2,105.06 L436.2,106.19 L437.2,107.32 L438.2,108.44 L439.2,109.52 L440.2,110.57 L441.2,111.61 L442.2,112.67 L443.2,113.70 L444.2,114.71 L445.2,115.73 L446.2,116.79 L447.2,117.98 L448.2,119.22 L449.2,120.40 L450.2,121.40 L451.2,122.23 L452.2,122.93 L453.2,123.56 L453.5,123.75" fill="none" stroke="#ffa500" stroke-width="5" stroke-dasharray="2.7 6.45"/>
<path d="M76.2,303.60 L77.2,303.60 L78.2,303.60 L79.2,303.60 L80.2,303.60 L81.2,303.59 L82.2,303.59 L83.2,303.59 L84.2,303.59 L85.2,303.58 L86.2,303.58 L87.2,303.57 L88.2,303.57 L89.2,303.56 L90.2,303.56 L91.2,303.55 L92.2,303.55 L93.2,303.54 L94.2,303.54 L95.2,303.53 L96.2,303.53 L97.2,303.52 L98.2,303.51 L99.2,303.51 L100.2,303.50 L101.2,303.49 L102.2,303.48 L103.2,303.47 L104.2,303.46 L105.2,303.45 L106.2,303.43 L107.2,303.42 L108.2,303.40 L109.2,303.39 L110.2,303.37 L111.2,303.35 L112.2,303.33 L113.2,303.31 L114.2,303.29 L115.2,303.26 L116.2,303.24 L117.2,303.22 L118.2,303.19 L119.2,303.17 L120.2,303.14 L121.2,303.11 L122.2,303.08 L123.2,303.05 L124.2,303.02 L125.2,302.99 L126.2,302.96 L127.2,302.92 L128.2,302.88 L129.2,302.83 L130.2,302.78 L131.2,302.72 L132.2,302.67 L133.2,302.61 L134.2,302.55 L135.2,302.48 L136.2,302.42 L137.2,302.35 L138.2,302.28 L139.2,302.21 L140.2,302.15 L141.2,302.08 L142.2,302.01 L143.2,301.95 L144.2,301.88 L145.2,301.81 L146.2,301.74 L147.2,301.67 L148.2,301.60 L149.2,301.53 L150.2,301.45 L151.2,301.38 L152.2,301.30 L153.2,301.22 L154.2,301.14 L155.2,301.06 L156.2,300.98 L157.2,300.89 L158.2,300.81 L159.2,300.72 L160.2,300.63 L161.2,300.54 L162.2,300.45 L163.2,300.35 L164.2,300.26 L165.2,300.16 L166.2,300.06 L167.2,299.96 L168.2,299.86 L169.2,299.75 L170.2,299.64 L171.2,299.53 L172.2,299.41 L173.2,299.29 L174.2,299.16 L175.2,299.03 L176.2,298.89 L177.2,298.74 L178.2,298.58 L179.2,298.41 L180.2,298.24 L181.2,298.06 L182.2,297.88 L183.2,297.70 L184.2,297.51 L185.2,297.32 L186.2,297.12 L187.2,296.92 L188.2,296.72 L189.2,296.51 L190.2,296.30 L191.2,296.09 L192.2,295.87 L193.2,295.65 L194.2,295.43 L195.2,295.21 L196.2,294.98 L197.2,294.75 L198.2,294.51 L199.2,294.28 L200.2,294.04 L201.2,293.80 L202.2,293.55 L203.2,293.30 L204.2,293.05 L205.2,292.79 L206.2,292.52 L207.2,292.26 L208.2,291.98 L209.2,291.70 L210.2,291.42 L211.2,291.14 L212.2,290.85 L213.2,290.55 L214.2,290.26 L215.2,289.96 L216.2,289.66 L217.2,289.35 L218.2,289.05 L219.2,288.74 L220.2,288.43 L221.2,288.11 L222.2,287.80 L223.2,287.48 L224.2,287.16 L225.2,286.83 L226.2,286.50 L227.2,286.17 L228.2,285.83 L229.2,285.49 L230.2,285.14 L231.2,284.78 L232.2,284.42 L233.2,284.06 L234.2,283.69 L235.2,283.31 L236.2,282.92 L237.2,282.53 L238.2,282.13 L239.2,281.73 L240.2,281.32 L241.2,280.90 L242.2,280.48 L243.2,280.05 L244.2,279.61 L245.2,279.17 L246.2,278.72 L247.2,278.27 L248.2,277.81 L249.2,277.35 L250.2,276.88 L251.2,276.41 L252.2,275.93 L253.2,275.44 L254.2,274.95 L255.2,274.45 L256.2,273.95 L257.2,273.45 L258.2,272.93 L259.2,272.42 L260.2,271.90 L261.2,271.36 L262.2,270.82 L263.2,270.26 L264.2,269.70 L265.2,269.12 L266.2,268.54 L267.2,267.94 L268.2,267.34 L269.2,266.73 L270.2,266.12 L271.2,265.50 L272.2,264.87 L273.2,264.24 L274.2,263.61 L275.2,262.97 L276.2,262.33 L277.2,261.70 L278.2,261.06 L279.2,260.42 L280.2,259.78 L281.2,259.14 L282.2,258.51 L283.2,257.87 L284.2,257.24 L285.2,256.61 L286.2,255.97 L287.2,255.34 L288.2,254.70 L289.2,254.05 L290.2,253.41 L291.2,252.77 L292.2,252.12 L293.2,251.47 L294.2,250.82 L295.2,250.16 L296.2,249.51 L297.2,248.85 L298.2,248.18 L299.2,247.52 L300.2,246.85 L301.2,246.18 L302.2,245.50 L303.2,244.83 L304.2,244.15 L305.2,243.46 L306.2,242.77 L307.2,242.07 L308.2,241.35 L309.2,240.64 L310.2,239.92 L311.2,239.20 L312.2,238.48 L313.2,237.76 L314.2,237.06 L315.2,236.36 L316.2,235.68 L317.2,235.01 L318.2,234.35 L319.2,233.70 L320.2,233.04 L321.2,232.39 L322.2,231.74 L323.2,231.07 L324.2,230.40 L325.2,229.72 L326.2,229.02 L327.2,228.29 L328.2,227.55 L329.2,226.78 L330.2,225.98 L331.2,225.16 L332.2,224.33 L333.2,223.49 L334.2,222.65 L335.2,221.81 L336.2,220.97 L337.2,220.15 L338.2,219.34 L339.2,218.54 L340.2,217.75 L341.2,216.96 L342.2,216.18 L343.2,215.40 L344.2,214.62 L345.2,213.83 L346.2,213.05 L347.2,212.26 L348.2,211.46 L349.2,210.66 L350.2,209.87 L351.2,209.07 L352.2,208.27 L353.2,207.47 L354.2,206.67 L355.2,205.85 L356.2,205.03 L357.2,204.18 L358.2,203.33 L359.2,202.44 L360.2,201.53 L361.2,200.61 L362.2,199.66 L363.2,198.72 L364.2,197.77 L365.2,196.83 L366.2,195.91 L367.2,195.00 L368.2,194.13 L369.2,193.28 L370.2,192.46 L371.2,191.65 L372.2,190.85 L373.2,190.06 L374.2,189.26 L375.2,188.44 L376.2,187.61 L377.2,186.75 L378.2,185.85 L379.2,184.89 L380.2,183.89 L381.2,182.87 L382.2,181.83 L383.2,180.82 L384.2,179.83 L385.2,178.90 L386.2,178.04 L387.2,177.26 L388.2,176.55 L389.2,175.88 L390.2,175.22 L391.2,174.57 L392.2,173.89 L393.2,173.18 L394.2,172.46 L395.2,171.74 L396.2,171.02 L397.2,170.31 L398.2,169.62 L399.2,168.96 L400.2,168.33 L401.2,167.76 L402.2,167.24 L403.2,166.78 L404.2,166.46 L405.2,166.17 L406.2,165.87 L407.2,165.58 L408.2,165.28 L409.2,164.99 L410.2,164.69 L411.2,164.40 L412.2,164.10 L413.2,163.81 L414.2,163.51 L415.2,163.22 L416.2,162.97 L417.2,162.86 L418.2,163.14 L419.2,163.42 L420.2,163.70 L421.2,163.98 L422.2,164.33 L423.2,164.96 L424.2,165.60 L425.2,166.24 L426.2,166.87 L427.2,167.51 L428.2,168.15 L429.2,168.90 L430.2,169.74 L431.2,170.58 L432.2,171.42 L433.2,172.26 L434.2,173.10 L435.2,173.94 L436.2,174.78 L437.2,175.62 L438.2,176.57 L439.2,177.55 L440.2,178.52 L441.2,179.49 L442.2,180.46 L443.2,181.43 L444.2,182.40 L445.2,183.37 L446.2,184.34 L447.2,185.31 L448.2,186.22 L449.2,187.06 L450.2,187.90 L451.2,188.74 L452.2,189.58 L453.2,190.42 L453.5,190.69" fill="none" stroke="#bf80ff" stroke-width="5" stroke-dasharray="13.4 12.8"/>
<path d="M76.2,303.4H215" stroke="#000" stroke-opacity="0.4" stroke-width="0.7"/>
</g>
<path d="M100.6,25.2H194.8" stroke="#000" stroke-width="5"/>
<path d="M100.6,47.5H194.8" stroke="#ff0000" stroke-width="5" stroke-dasharray="26.7 12.5"/>
<path d="M100.6,69.7H194.8" stroke="#0000ff" stroke-width="5" stroke-dasharray="3.2 6.1 13.4 12.7"/>
<path d="M100.6,91.9H194.8" stroke="#ffa500" stroke-width="5" stroke-dasharray="2.7 6.5"/>
<path d="M100.6,113.9H194.8" stroke="#bf80ff" stroke-width="5" stroke-dasharray="13.4 12.8"/>
<g font-family="Liberation Serif, serif" fill="#000" stroke="#fff" stroke-width="0.3" style="filter:grayscale(1)">
<text transform="translate(205.39,30.33) scale(1.1095,1.0687)" font-size="24.9">CT14</text>
<text transform="translate(205.67,52.44) scale(1.1127,1.0507)" font-size="24.9">NNPDF31</text>
<text transform="translate(205.69,74.5) scale(1.0805,1.0485)" font-size="24.9">MMHT14</text>
<text transform="translate(206.23,96.34) scale(1.0784,1.0448)" font-size="24.9">AHWKR</text>
<text transform="translate(205.32,118.76) scale(1.1834,0.9417)" font-size="24.9">corr.</text>
<text transform="translate(270.25,118.73) scale(1.0544,1.0687)" font-size="24.9">GBW</text>
<text transform="translate(56.89,309.34) scale(1.0095,1.0328)" font-size="24.9">0</text>
<text transform="translate(36.52,269.6) scale(1.0783,1.0328)" font-size="24.9">0.2</text>
<text transform="translate(36.56,229.85) scale(1.042,1.0328)" font-size="24.9">0.4</text>
<text transform="translate(36.55,190.1) scale(1.0508,1.0328)" font-size="24.9">0.6</text>
<text transform="translate(36.54,150.36) scale(1.0598,1.0328)" font-size="24.9">0.8</text>
<text transform="translate(55.68,110.47) scale(1.12,1.0182)" font-size="24.9">1</text>
<text transform="translate(35.06,70.86) scale(1.1273,1.0328)" font-size="24.9">1.2</text>
<text transform="translate(35.15,31.12) scale(1.0877,1.0328)" font-size="24.9">1.4</text>
<text transform="translate(56.13,332.05) scale(1.0529,1.0149)" font-size="24.9">10</text>
<text transform="translate(82.19,322.3) scale(1.2143,1.0522)" font-size="17.4">2</text>
<text transform="translate(181.9,332.05) scale(1.0529,1.0149)" font-size="24.9">10</text>
<text transform="translate(208.61,322.0) scale(1.0303,1.0261)" font-size="17.4">4</text>
<text transform="translate(307.67,332.05) scale(1.0529,1.0149)" font-size="24.9">10</text>
<text transform="translate(333.79,322.04) scale(1.1333,1.0298)" font-size="17.4">6</text>
<text transform="translate(433.44,332.05) scale(1.0529,1.0149)" font-size="24.9">10</text>
<text transform="translate(459.53,322.04) scale(1.1724,1.0298)" font-size="17.4">8</text>
<text transform="translate(90.71,212.7) scale(1.2333,1.0215)" font-size="24.9" font-style="italic">E</text>
<text transform="translate(108.58,215.36) scale(1.2667,0.9697)" font-size="17.4" font-style="italic" stroke="none">ν</text>
<text transform="translate(126.65,216.88) scale(1.5565,1.2333)" font-size="24.9" stroke="none">=</text>
<text transform="translate(154.47,212.75) scale(1.0345,1.0149)" font-size="24.9">10</text>
<text transform="translate(180.48,204.34) scale(1.2276,1.0383)" font-size="17.4">8</text>
<text transform="translate(201.59,212.93) scale(1.0142,1.0687)" font-size="24.9">GeV</text>
<text transform="translate(206.41,358.4) scale(1.2467,1.0523)" font-size="24.9" font-style="italic">E</text>
<text transform="translate(222.58,362.33) scale(1.3724,1.087)" font-size="17.4" font-style="italic">W</text>
<text transform="translate(255.75,358.91) scale(0.8462,1.1022)" font-size="24.9">(</text>
<text transform="translate(264.72,358.53) scale(0.977,1.0687)" font-size="24.9">GeV</text>
<text transform="translate(312.51,358.91) scale(0.9231,1.1022)" font-size="24.9">)</text>
<g transform="rotate(-90)">
<text transform="translate(-247.99,21.0) scale(1.2533,1.1077)" font-size="24.9" font-style="italic">E</text>
<text transform="translate(-230.26,25.12) scale(1.2483,1.113)" font-size="17.4" font-style="italic">W</text>
<text transform="translate(-208.74,21.13) scale(0.9872,1.0743)" font-size="24.9" font-style="italic">d</text>
<text transform="translate(-195.3,21.18) scale(0.9306,0.8846)" font-size="24.9" font-style="italic">σ</text>
<text transform="translate(-180.0,26.41) scale(1.5704,1.5522)" font-size="24.9" stroke-width="0.55">/</text>
<text transform="translate(-166.08,21.13) scale(1.0383,1.0743)" font-size="24.9" font-style="italic">d</text>
<text transform="translate(-151.2,21.0) scale(1.2067,1.1077)" font-size="24.9" font-style="italic">E</text>
<text transform="translate(-134.47,25.12) scale(1.2552,1.113)" font-size="17.4" font-style="italic">W</text>
<text transform="translate(-101.4,20.92) scale(1.0,1.12)" font-size="24.9">(</text>
<text transform="translate(-92.06,21.13) scale(1.1106,1.0743)" font-size="24.9">nb</text>
<text transform="translate(-63.66,20.92) scale(0.8769,1.12)" font-size="24.9">)</text>
</g></g>
</svg>
</body></html>
